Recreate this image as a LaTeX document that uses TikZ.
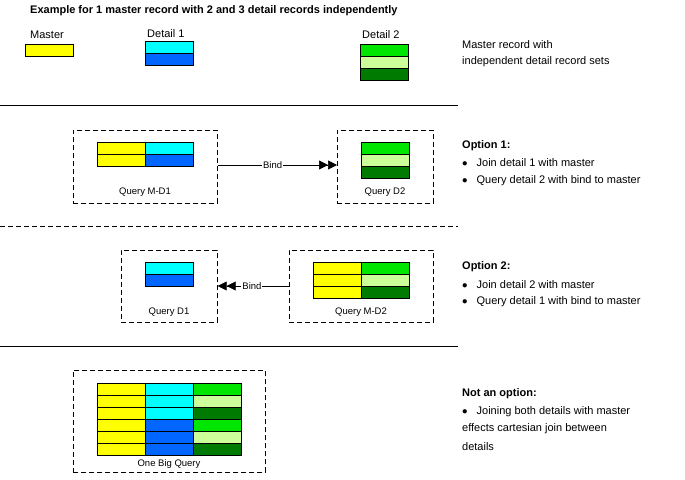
\documentclass[tikz,border=0pt]{standalone}
\usepackage{fontspec}
\setmainfont{Liberation Sans}
\usetikzlibrary{arrows.meta}
\definecolor{cy}{HTML}{FFFF00}
\definecolor{cc}{HTML}{00FFFF}
\definecolor{cb}{HTML}{0066FF}
\definecolor{cg}{HTML}{00E600}
\definecolor{cl}{HTML}{CCFF99}
\definecolor{cd}{HTML}{007A00}
\tikzset{
 cell/.style={draw=black,line width=0.8pt,minimum width=48pt,minimum height=12pt,inner sep=0pt,anchor=north west},
 qbox/.style={draw=black,dashed,dash pattern=on 5pt off 3pt,line width=0.7pt,anchor=north west,inner sep=0pt},
 lbl/.style={font=\fontsize{9.5}{11}\selectfont,inner sep=0pt},
 txt/.style={font=\fontsize{11}{13}\selectfont,anchor=west,inner sep=0pt},
 btxt/.style={font=\bfseries\fontsize{11}{13}\selectfont,anchor=west,inner sep=0pt},
 bind/.style={line width=0.7pt,-{Triangle[length=9pt,width=9pt]Triangle[length=9pt,width=9pt]}}
}
\newcommand{\cellat}[4]{\node[cell,fill=#4] (#1) at (#2,#3) {};}
\begin{document}
\begin{tikzpicture}[x=1pt,y=-1pt]
\useasboundingbox (0,0) rectangle (685,479);
\node[btxt] (title) at (30,11) {Example for 1 master record with 2 and 3 detail records independently};
% top
\node[txt] (lm) at (30,35) {Master};
\node[txt] (ld1) at (147,34) {Detail 1};
\node[txt] (ld2) at (362,35) {Detail 2};
\cellat{m0}{25}{44}{cy}
\cellat{a0}{145}{41}{cc}\cellat{a1}{145}{53}{cb}
\cellat{b0}{360}{44}{cg}\cellat{b1}{360}{56}{cl}\cellat{b2}{360}{68}{cd}
\node[txt] (t1) at (462,45) {Master record with};
\node[txt] (t2) at (462,62) {independent detail record sets};
\draw[line width=0.8pt] (0,105) coordinate (l1a) -- (458,105) coordinate (l1b);
% option 1
\node[qbox,minimum width=144pt,minimum height=73pt] (q1) at (73,130) {};
\cellat{c0}{97}{142}{cy}\cellat{c1}{145}{142}{cc}
\cellat{c2}{97}{154}{cy}\cellat{c3}{145}{154}{cb}
\node[lbl] (q1l) at (145,192) {Query M-D1};
\node[qbox,minimum width=96pt,minimum height=73pt] (q2) at (337,130) {};
\cellat{d0}{361}{142}{cg}\cellat{d1}{361}{154}{cl}\cellat{d2}{361}{166}{cd}
\node[lbl] (q2l) at (385,192) {Query D2};
\draw[bind] (q1.east |- 0,165) -- node[lbl,fill=white,inner sep=1pt,pos=0.46] (b1l) {Bind} (q2.west |- 0,165);
\node[btxt] (o1) at (462,146) {Option 1:};
\node[txt] (o1a) at (462,163) {$\bullet$\hspace{9pt}Join detail 1 with master};
\node[txt] (o1b) at (462,181) {$\bullet$\hspace{9pt}Query detail 2 with bind to master};
\draw[line width=0.8pt,dash pattern=on 5pt off 3pt] (0,226) coordinate (l2a) -- (458,226) coordinate (l2b);
% option 2
\node[qbox,minimum width=96pt,minimum height=72pt] (q3) at (121,250) {};
\cellat{e0}{145}{262}{cc}\cellat{e1}{145}{274}{cb}
\node[lbl] (q3l) at (169,312) {Query D1};
\node[qbox,minimum width=144pt,minimum height=72pt] (q4) at (289,250) {};
\cellat{f0}{313}{262}{cy}\cellat{f1}{361}{262}{cg}
\cellat{f2}{313}{274}{cy}\cellat{f3}{361}{274}{cl}
\cellat{f4}{313}{286}{cy}\cellat{f5}{361}{286}{cd}
\node[lbl] (q4l) at (361,312) {Query M-D2};
\draw[bind] (q4.west |- 0,286) -- node[lbl,fill=white,inner sep=1pt,pos=0.52] (b2l) {Bind} (q3.east |- 0,286);
\node[btxt] (o2) at (462,267) {Option 2:};
\node[txt] (o2a) at (462,285) {$\bullet$\hspace{9pt}Join detail 2 with master};
\node[txt] (o2b) at (462,302) {$\bullet$\hspace{9pt}Query detail 1 with bind to master};
\draw[line width=0.8pt] (0,346) coordinate (l3a) -- (458,346) coordinate (l3b);
% big
\node[qbox,minimum width=192pt,minimum height=102pt] (q5) at (73,370) {};
\foreach \r/\b/\g in {0/cc/cg,1/cc/cl,2/cc/cd,3/cb/cg,4/cb/cl,5/cb/cd}{
  \node[cell,fill=cy] (gy\r) at (97,383+12*\r) {};
  \node[cell,fill=\b] (gb\r) at (145,383+12*\r) {};
  \node[cell,fill=\g] (gg\r) at (193,383+12*\r) {};
}
\node[lbl] (q5l) at (169,464) {One Big Query};
\node[btxt] (o3) at (462,394) {Not an option:};
\node[txt] (o3a) at (462,412) {$\bullet$\hspace{9pt}Joining both details with master};
\node[txt] (o3b) at (462,429) {effects cartesian join between};
\node[txt] (o3c) at (462,447) {details};
\end{tikzpicture}
\end{document}
